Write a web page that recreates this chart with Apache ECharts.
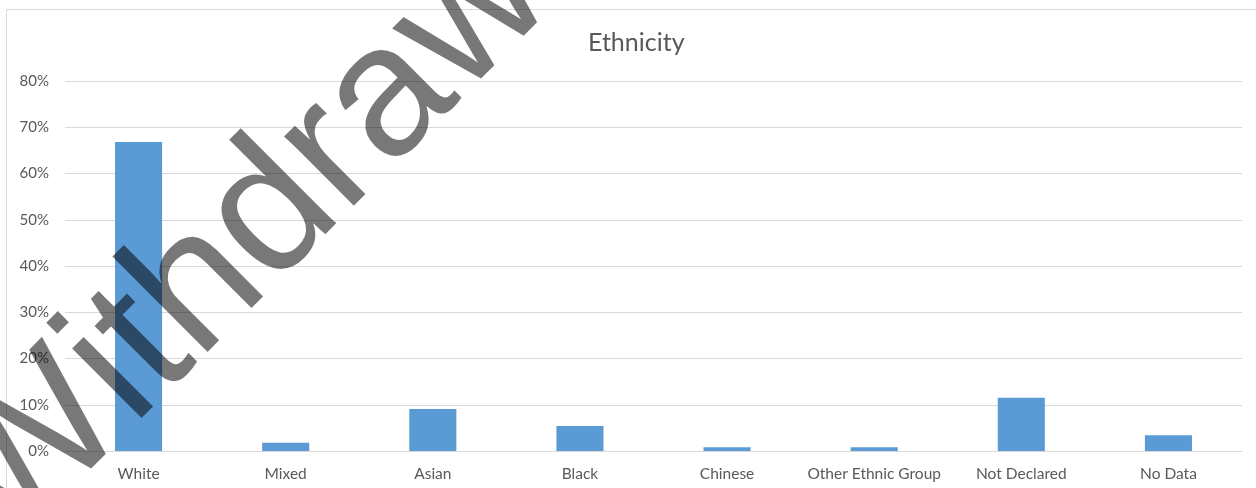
<!DOCTYPE html>
<html>
<head>
<meta charset="utf-8">
<script src="https://cdn.jsdelivr.net/npm/echarts@6/dist/echarts.min.js"></script>
<style>
html,body{margin:0;padding:0;background:#fff;}
#chart{width:1256px;height:488px;}
</style>
</head>
<body>
<div id="chart"></div>
<script>
const categories = ['White','Mixed','Asian','Black','Chinese','Other Ethnic Group','Not Declared','No Data'];
const shares = [66.8, 1.8, 9.1, 5.4, 0.8, 0.8, 11.5, 3.4];
const titleText = 'Ethnicity';
const watermarkText = 'Withdrawn';

const chart = echarts.init(document.getElementById('chart'), null, {renderer:'canvas'});
const font = 'Lato, "Open Sans", sans-serif';
chart.setOption({
  animation: false,
  backgroundColor: '#fff',
  title: {
    text: titleText, left: 583, top: 25,
    textStyle: {fontFamily: font, fontSize: 25, fontWeight: 'normal', color: '#595959'}
  },
  grid: {left: 65, right: 14, top: 81, bottom: 37, containLabel: false},
  xAxis: {
    type: 'category', data: categories,
    axisLine: {lineStyle: {color: '#d9d9d9', width: 1}},
    axisTick: {show: false},
    axisLabel: {fontFamily: font, fontSize: 15.5, color: '#595959', margin: 15, interval: 0}
  },
  yAxis: {
    type: 'value', min: 0, max: 80, interval: 10,
    axisLine: {show: false}, axisTick: {show: false},
    splitLine: {lineStyle: {color: '#d9d9d9', width: 1}},
    axisLabel: {fontFamily: font, fontSize: 15, color: '#595959', margin: 16, formatter: '{value}%'}
  },
  series: [{
    type: 'bar', data: shares, barWidth: '32%',
    itemStyle: {color: '#5b9bd5'}
  }],
  graphic: [
    {type: 'rect', shape: {x: 6.5, y: 9.5, width: 1300, height: 600}, style: {fill: 'none', stroke: '#d9d9d9', lineWidth: 1}, z: -1, silent: true},
    {type: 'text', x: 283, y: 204, rotation: Math.PI/4, z: 100, silent: true,
     style: {text: watermarkText, font: '186px "Liberation Sans", Arial, sans-serif', fill: 'rgba(0,0,0,0.53)', align: 'center', verticalAlign: 'middle'}}
  ]
});
</script>
</body>
</html>
